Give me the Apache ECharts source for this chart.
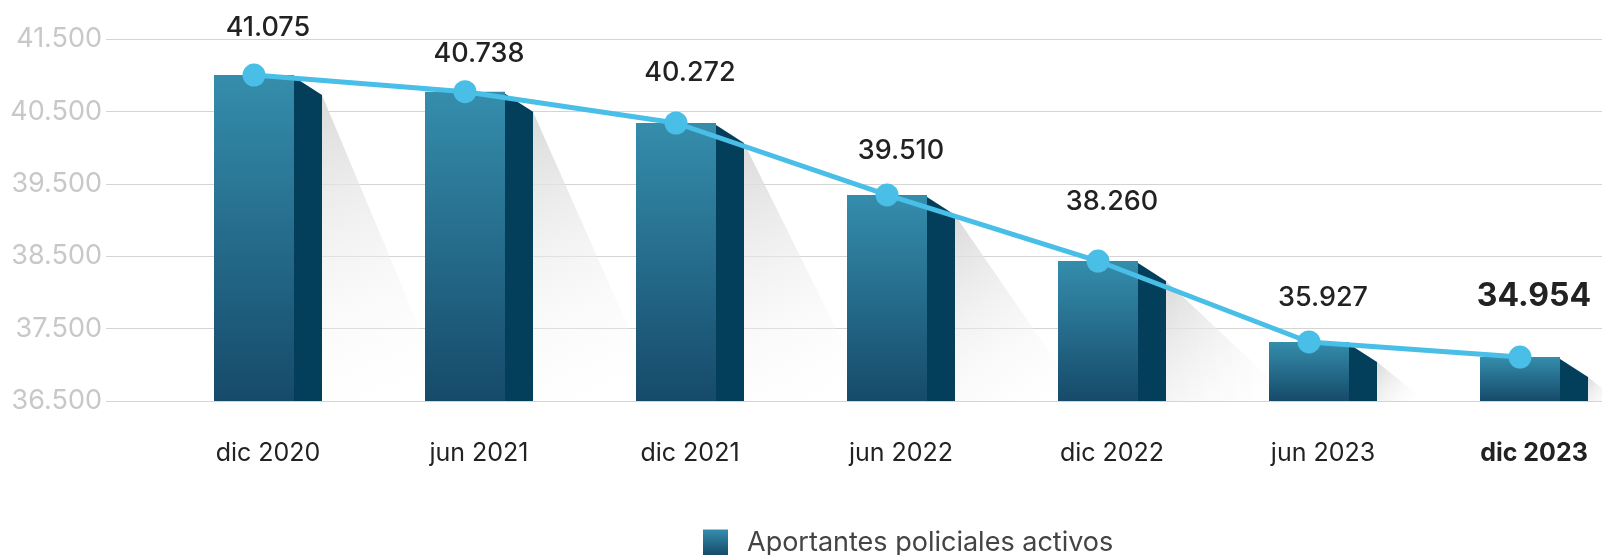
<!DOCTYPE html>
<html>
<head>
<meta charset="utf-8">
<script src="https://cdn.jsdelivr.net/npm/echarts@6/dist/echarts.min.js"></script>
<style>
  html, body { margin: 0; padding: 0; background: #fff; }
  #chart { width: 1602px; height: 555px; }
</style>
</head>
<body>
<div id="chart"></div>
<script>
// periods shown under the bars
var categories = ['dic 2020', 'jun 2021', 'dic 2021', 'jun 2022', 'dic 2022', 'jun 2023', 'dic 2023'];
// bar heights as they stand against the y axis in the picture
var barHeights = [41006, 40776, 40343, 39348, 38435, 37316, 37108];
// numbers printed above the bars
var valueLabels = ['41.075', '40.738', '40.272', '39.510', '38.260', '35.927', '34.954'];
// y axis
var yMin = 36500, yMax = 41500, yStep = 500;

// how far each printed number floats above its bar (px), uneven in the original
var labelGap = [34, 24, 37, 31, 46, 31, 45];

var seriesName = 'Aportantes policiales activos';
var font = 'Inter';
var last = categories.length - 1;

var frontGrad = new echarts.graphic.LinearGradient(0, 0, 0, 1, [
  { offset: 0, color: '#358dac' },
  { offset: 1, color: '#164a6a' }
]);

var myChart = echarts.init(document.getElementById('chart'));

var option = {
  animation: false,
  legend: {
    data: [seriesName],
    left: 698,
    top: 524,
    itemWidth: 25,
    itemHeight: 26,
    icon: 'rect',
    textStyle: { fontFamily: font, fontSize: 27, color: '#444', padding: [0, 0, 0, 14] }
  },
  grid: [
    { left: 106, right: 0, top: 39.3, height: 361.7 },
    { left: 254, width: 1266, top: 39.3, height: 361.7 }
  ],
  xAxis: [
    { type: 'value', gridIndex: 0, min: 0, max: 1, show: false },
    {
      type: 'category', gridIndex: 1, data: categories, boundaryGap: false,
      axisLine: { show: false }, axisTick: { show: false }, splitLine: { show: false },
      axisLabel: {
        margin: 40, fontFamily: font, fontSize: 25, color: '#222',
        padding: [0, 0, 0, 28],
        formatter: function (v, i) { return i === last ? '{b|' + v + '}' : v; },
        rich: { b: { fontFamily: font, fontSize: 25, fontWeight: 'bold', color: '#222' } }
      }
    }
  ],
  yAxis: [
    {
      type: 'value', gridIndex: 0, min: yMin, max: yMax, interval: yStep,
      axisLine: { show: false }, axisTick: { show: false },
      axisLabel: {
        margin: 4, fontFamily: font, fontSize: 27, color: '#c8c8c8',
        formatter: function (v) { return v % 1000 === 500 ? (v / 1000).toFixed(3) : ''; }
      },
      splitLine: { lineStyle: { color: ['#d4d4d4', 'rgba(0,0,0,0)'], width: 1.2 } }
    },
    { type: 'value', gridIndex: 1, min: yMin, max: yMax, show: false, splitLine: { show: false } }
  ],
  series: [
    {
      // side face and cast shadow of each bar
      type: 'custom',
      xAxisIndex: 1, yAxisIndex: 1,
      z: 1,
      clip: false,
      data: barHeights.map(function (v, i) { return [i, v]; }),
      encode: { x: 0, y: 1 },
      renderItem: function (params, api) {
        var top = api.coord([api.value(0), api.value(1)]);
        var base = api.coord([api.value(0), yMin])[1];
        var fx = top[0] + 40;
        var sx = fx + 28;
        var sTop = top[1] + 20;
        var shW = Math.min(128, (base - sTop) * 1.25);
        return {
          type: 'group',
          children: [
            {
              type: 'polygon',
              shape: { points: [[sx, sTop], [sx + shW, base], [sx, base]] },
              style: {
                fill: new echarts.graphic.LinearGradient(0, 0, 1, 1, [
                  { offset: 0, color: '#dadada' },
                  { offset: 1, color: 'rgba(255,255,255,0)' }
                ])
              }
            },
            {
              type: 'polygon',
              shape: { points: [[fx, top[1] + 2], [sx, sTop], [sx, base], [fx, base]] },
              style: { fill: '#033f5b' }
            }
          ]
        };
      }
    },
    {
      name: seriesName,
      type: 'bar',
      xAxisIndex: 1, yAxisIndex: 1,
      z: 2,
      barWidth: 80,
      itemStyle: { color: frontGrad },
      label: {
        show: true, position: 'top', offset: [14, 0],
        fontFamily: font, fontSize: 27, fontWeight: 500, color: '#222',
        formatter: function (p) { return valueLabels[p.dataIndex]; }
      },
      data: barHeights.map(function (v, i) {
        var lab = { distance: labelGap[i] };
        if (i === last) { lab.fontSize = 32; lab.fontWeight = 'bold'; }
        return { value: v, label: lab };
      })
    },
    {
      name: 'linea',
      type: 'line',
      xAxisIndex: 1, yAxisIndex: 1,
      z: 3,
      symbol: 'circle',
      symbolSize: 23,
      itemStyle: { color: '#49bee7' },
      lineStyle: { color: '#49bee7', width: 5 },
      data: barHeights
    }
  ]
};

myChart.setOption(option);
window.addEventListener('resize', function () { myChart.resize(); });
</script>
</body>
</html>
